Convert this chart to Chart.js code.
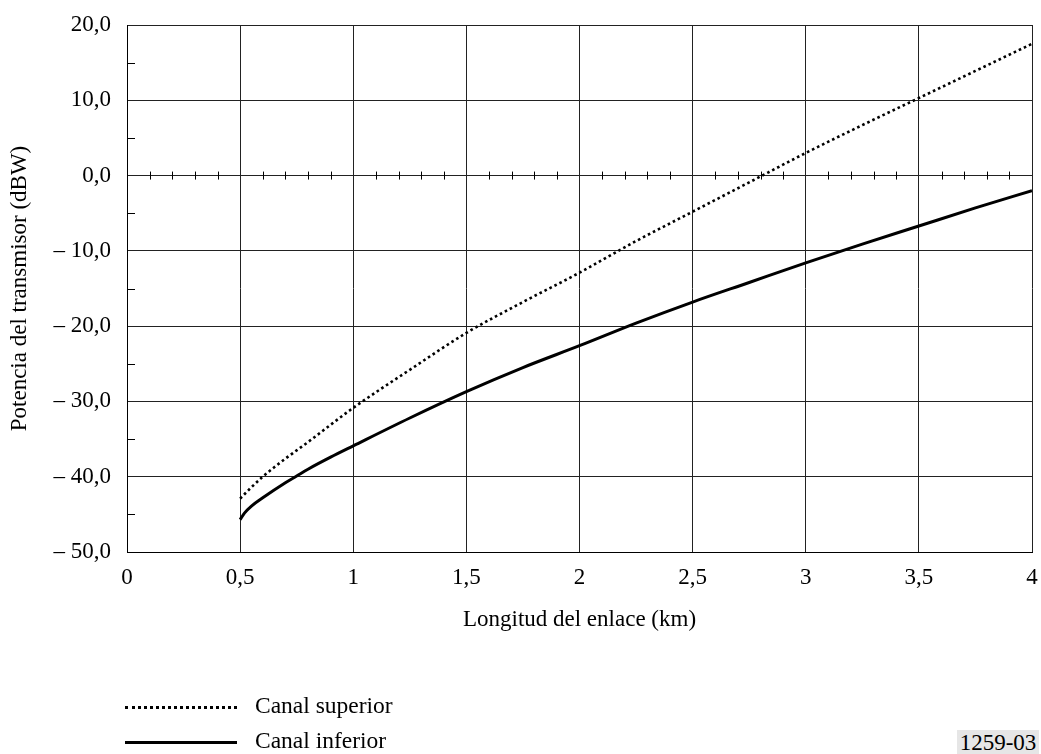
<!DOCTYPE html>
<html>
<head>
<meta charset="utf-8">
<script src="https://cdn.jsdelivr.net/npm/chart.js@4"></script>
<style>
  body { margin: 0; background: #fff; }
  #wrap { position: relative; width: 1041px; height: 754px; font-family: "Liberation Serif", serif; }
  .leg { position: absolute; left: 125px; font-size: 23.5px; line-height: 26px; color: #000; }
  .leg span.line { display: inline-block; width: 112px; vertical-align: middle; margin-right: 18px; }
  #ref { position: absolute; left: 957px; top: 730px; width: 82px; height: 24px; background: #e6e6e6;
         font-size: 23px; line-height: 26px; text-align: center; }
</style>
</head>
<body>
<div id="wrap">
  <canvas id="myChart"></canvas>
  <div class="leg" style="top:692px"><span class="line" style="border-top:3px dotted #000"></span>Canal superior</div>
  <div class="leg" style="top:727px"><span class="line" style="border-top:3px solid #000"></span>Canal inferior</div>
  <div id="ref">1259-03</div>
</div>
<script>
// link length (km)
const distances = [0.5, 0.52, 0.55, 0.6, 0.7, 0.75, 0.8, 0.9, 1.0, 1.25, 1.5, 1.75, 2.0, 2.25, 2.5, 2.75, 3.0, 3.25, 3.5, 3.75, 4.0];
// transmitter power (dBW)
const canalSuperior = [-42.9, -42.3, -41.4, -40.0, -37.6, -36.5, -35.4, -33.1, -30.85, -25.8, -20.9, -16.8, -12.9, -8.7, -4.8, -0.9, 3.0, 6.7, 10.3, 13.9, 17.5];
const canalInferior = [-45.7, -44.8, -43.9, -42.8, -40.8, -39.9, -39.0, -37.4, -35.9, -32.2, -28.7, -25.5, -22.6, -19.6, -16.8, -14.2, -11.6, -9.1, -6.7, -4.3, -2.0];
const yTicks = [-50, -40, -30, -20, -10, 0, 10, 20];
const xTicks = [0, 0.5, 1, 1.5, 2, 2.5, 3, 3.5, 4];

function pts(vals) {
  return distances.map((d, i) => ({ x: d, y: vals[i] }));
}
function fmtY(v) {
  var s = Math.abs(v).toFixed(1).replace('.', ',');
  return v < 0 ? '\u2013 ' + s : s;
}

// small ticks: every 5 dBW on left axis, every 0.1 km on the 0 dBW line
const minorTicks = {
  id: 'minorTicks',
  afterDatasetsDraw(chart) {
    const ctx = chart.ctx, xs = chart.scales.x, ys = chart.scales.y;
    ctx.save();
    ctx.strokeStyle = '#000';
    ctx.lineWidth = 1;
    ctx.beginPath();
    for (var v = -45; v < 20; v += 10) {
      var py = Math.round(ys.getPixelForValue(v)) + 0.5;
      ctx.moveTo(xs.left, py);
      ctx.lineTo(xs.left + 8, py);
    }
    var y0 = ys.getPixelForValue(0);
    for (var k = 1; k < 40; k++) {
      if (k % 5 === 0) continue;
      var px = Math.round(xs.getPixelForValue(k / 10)) + 0.5;
      ctx.moveTo(px, y0 - 4);
      ctx.lineTo(px, y0 + 4);
    }
    ctx.stroke();
    ctx.restore();
  }
};

const font = { family: '"Liberation Serif", serif', size: 23 };

new Chart(document.getElementById('myChart'), {
  type: 'line',
  data: {
    datasets: [
      { label: 'Canal superior', data: pts(canalSuperior), borderColor: '#000', borderWidth: 2.6,
        borderDash: [2.6, 3], pointRadius: 0, cubicInterpolationMode: 'monotone', fill: false },
      { label: 'Canal inferior', data: pts(canalInferior), borderColor: '#000', borderWidth: 3,
        pointRadius: 0, cubicInterpolationMode: 'monotone', fill: false }
    ]
  },
  options: {
    responsive: true,
    maintainAspectRatio: false,
    animation: false,
    layout: { padding: { top: 25, right: 9, bottom: 116, left: 0 } },
    plugins: { legend: { display: false }, tooltip: { enabled: false } },
    scales: {
      x: {
        type: 'linear', min: 0, max: 4,
        afterBuildTicks: (s) => { s.ticks = xTicks.map(v => ({ value: v })); },
        afterFit: (s) => { s.height = 86; s.paddingLeft = 0; s.paddingRight = 0; },
        ticks: { color: '#000', font: font, padding: 12, maxRotation: 0,
                 callback: (v) => String(v).replace('.', ',') },
        grid: { color: '#222', lineWidth: 1, drawTicks: false },
        border: { color: '#000', width: 1 },
        title: { display: true, text: 'Longitud del enlace (km)', color: '#000', font: font, padding: { top: 4, bottom: 4 } }
      },
      y: {
        min: -50, max: 20,
        afterBuildTicks: (s) => { s.ticks = yTicks.map(v => ({ value: v })); },
        afterFit: (s) => { s.width = 127; s.paddingTop = 0; s.paddingBottom = 0; },
        ticks: { color: '#000', font: font, padding: 16, callback: fmtY },
        grid: { color: '#222', lineWidth: 1, drawTicks: false },
        border: { color: '#000', width: 1 },
        title: { display: true, text: 'Potencia del transmisor (dBW)', color: '#000', font: font, padding: { top: 6, bottom: 4 } }
      }
    }
  },
  plugins: [minorTicks]
});
</script>
</body>
</html>
